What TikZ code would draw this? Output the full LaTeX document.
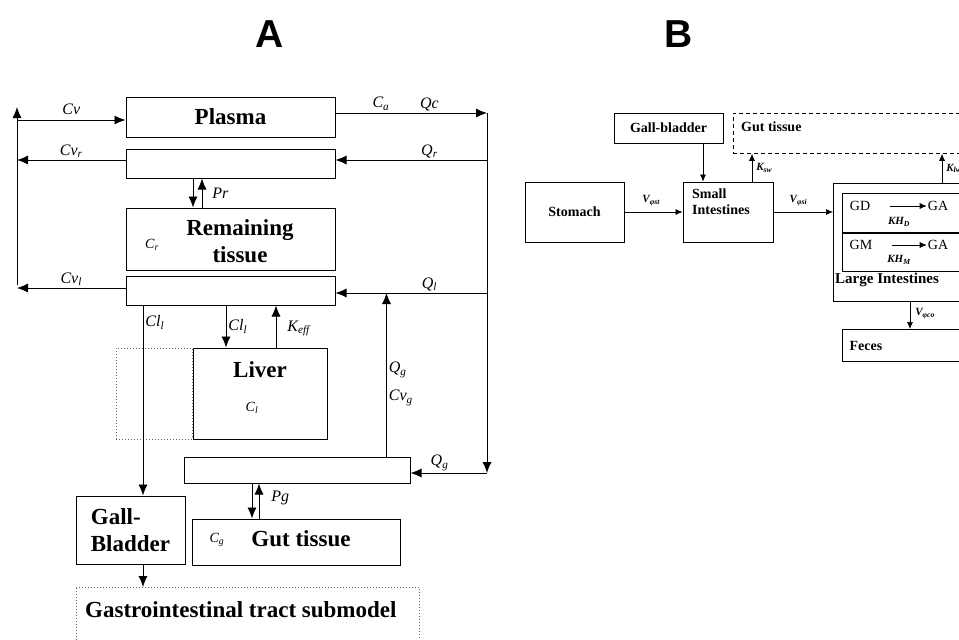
\documentclass[tikz,border=0pt]{standalone}
\usepackage{fontspec}
\setmainfont{Liberation Serif}
\newfontfamily\titlefont{Liberation Sans}
\usetikzlibrary{arrows.meta, calc, positioning}
\newcommand{\sbs}[1]{\textsubscript{#1}}
\tikzset{
  box/.style     = {draw, line width=1pt, inner sep=2pt, align=center,
                    font=\bfseries\fontsize{23}{27}\selectfont},
  dotbox/.style  = {box, draw=black!60, dotted},
  boxtxt/.style  = {align=center, inner sep=1pt,
                    font=\bfseries\fontsize{23}{27}\selectfont},
  bbox/.style    = {draw, line width=0.8pt, inner sep=2pt, align=center,
                    font=\bfseries\fontsize{14}{16}\selectfont},
  btxt/.style    = {align=left, inner sep=1pt,
                    font=\bfseries\fontsize{14}{16}\selectfont},
  chem/.style    = {inner sep=1pt, font=\fontsize{14}{16}\selectfont},
  lbl/.style     = {font=\itshape\fontsize{16}{18}\selectfont, inner sep=2pt},
  conc/.style    = {font=\itshape\fontsize{14}{16}\selectfont, inner sep=1pt},
  slbl/.style    = {font=\bfseries\itshape\fontsize{11}{12}\selectfont, inner sep=1pt},
  ttl/.style     = {font=\titlefont\bfseries\fontsize{39}{40}\selectfont},
  flow/.style    = {-{Latex[length=11pt, width=9pt]}, line width=0.8pt},
  sflow/.style   = {-{Latex[length=7pt, width=6pt]}, line width=0.7pt},
}

\begin{document}
\begin{tikzpicture}[x=1pt, y=-1pt]
  \clip (0,0) rectangle (959,640);

  \node[ttl] (ta) at (270,34) {A};
  \node[ttl] (tb) at (679,34) {B};

  %% ---------------- A: whole body ----------------
  \node[box, minimum width=209pt, minimum height=40pt] (plasma) at (230.5,117) {Plasma};
  \node[box, minimum width=209pt, minimum height=29pt, below=11pt of plasma] (rblood) {};
  \node[box, minimum width=209pt, minimum height=62pt, below=29pt of rblood] (rtissue) {};
  \node[box, minimum width=209pt, minimum height=29pt, below=5pt of rtissue] (lblood) {};
  \node[boxtxt] (rtxt) at (240,241) {Remaining\\tissue};
  \node[conc] (crtxt) at (152,245) {C\sbs{r}};

  \node[box, minimum width=134pt, minimum height=91pt] (liver) at (260,393.5) {};
  \node[dotbox, minimum width=76pt, minimum height=91pt, left=0pt of liver] (ldot) {};
  \node[boxtxt] (livertxt) at (260,370) {Liver};
  \node[conc] (cltxt) at (252,408) {C\sbs{l}};

  \node[box, minimum width=226pt, minimum height=26pt] (gblood) at (297,470) {};
  \node[box, minimum width=208pt, minimum height=46pt] (gtissue) at (296,542) {};
  \node[conc] (cgtxt) at (217,540) {C\sbs{g}};
  \node[boxtxt] (gttxt) at (301,539) {Gut tissue};

  \node[box, minimum width=109pt, minimum height=68pt, align=left] (gall) at (130.5,530) {Gall-\\Bladder};
  \node[dotbox, minimum width=343pt, minimum height=70pt, anchor=north west] (gi) at (76,587) {};
  \node[boxtxt, anchor=west] (gitxt) at (84,610) {Gastrointestinal tract submodel};

  % the two blood rails
  \coordinate (lvtop) at (17,107);
  \coordinate (lvbot) at (17,285);
  \coordinate (rvtop) at (487,113);
  \coordinate (rvbot) at (487,473);

  \coordinate (cvin)   at ([yshift=-3pt]plasma.west);
  \coordinate (caout)  at ([yshift=4pt]plasma.east);
  \coordinate (qrin)   at ([yshift=3.5pt]rblood.east);
  \coordinate (cvrout) at ([yshift=3.5pt]rblood.west);
  \coordinate (qlin)   at ([yshift=-2.5pt]lblood.east);
  \coordinate (cvlout) at ([yshift=2.5pt]lblood.west);
  \coordinate (gout)   at ([xshift=-24pt]gblood.north east);
  \coordinate (clg)    at ([xshift=12.5pt]gall.north);

  \draw[flow] (lvbot) -- (lvtop);
  \draw[flow] (cvin -| lvtop) -- node[lbl, above=3pt] {Cv} (cvin);
  \draw[flow] (caout) -- node[lbl, above, pos=0.3] {C\sbs{a}}
                         node[lbl, above, pos=0.62] {Qc} (caout -| rvtop);
  \draw[flow] (rvtop) -- (rvbot);

  \draw[flow] (qrin -| rvtop) -- node[lbl, above, pos=0.38] {Q\sbs{r}} (qrin);
  \draw[flow] (cvrout) -- node[lbl, above] {Cv\sbs{r}} (cvrout -| lvtop);
  \draw[flow] (qlin -| rvtop) -- node[lbl, above, pos=0.38] {Q\sbs{l}} (qlin);
  \draw[flow] (cvlout) -- node[lbl, above] {Cv\sbs{l}} (cvlout -| lvtop);
  \draw[flow] (rvbot) -- node[lbl, above, pos=0.62] {Q\sbs{g}} (rvbot -| gblood.east);
  \draw[flow] (gout) -- node[lbl, right, pos=0.53] {Q\sbs{g}}
                        node[lbl, right, pos=0.36] {Cv\sbs{g}} (gout |- qlin);

  % exchange blood <-> tissue
  \draw[flow] ([xshift=-37.5pt]rblood.south) -- ([xshift=-37.5pt]rtissue.north);
  \draw[flow] ([xshift=-28.5pt]rtissue.north) -- node[lbl, right=8pt] {Pr} ([xshift=-28.5pt]rblood.south);
  \draw[flow] ([xshift=-45pt]gblood.south) -- ([xshift=-44pt]gtissue.north);
  \draw[flow] ([xshift=-37pt]gtissue.north) -- node[lbl, right=10pt, pos=0.6] {Pg} ([xshift=-38pt]gblood.south);

  \draw[flow] ([xshift=-4.5pt]lblood.south) -- node[lbl, right] {Cl\sbs{l}} ([xshift=-34pt]liver.north);
  \draw[flow] ([xshift=16pt]liver.north) -- node[lbl, right=9pt, pos=0.45] {K\sbs{eff}} ([xshift=45.5pt]lblood.south);
  \draw[flow] (clg |- lblood.south) -- node[lbl, right, pos=0.09] {Cl\sbs{l}} (clg);
  \draw[flow] ([xshift=12.5pt]gall.south) -- (clg |- gi.north);

  %% ---------------- B: GI tract ----------------
  \node[bbox, minimum width=99pt, minimum height=60pt] (stomach) at (574.5,212) {Stomach};
  \node[bbox, minimum width=109pt, minimum height=30pt] (gallb) at (668.5,128) {Gall-bladder};
  \node[bbox, dashed, dash pattern=on 4pt off 3pt, minimum width=300pt, minimum height=40pt,
        anchor=north west] (guttis) at (733,113) {};
  \node[btxt, anchor=west] (guttxt) at (740,127) {Gut tissue};

  \node[bbox, minimum width=90pt, minimum height=60pt] (small) at (728,212) {};
  \node[btxt, anchor=north west] (smalltxt) at (691,188) {Small\\Intestines};

  \node[bbox, minimum width=200pt, minimum height=118pt, anchor=north west] (large) at (833,183) {};
  \node[bbox, line width=0.6pt, minimum width=150pt, minimum height=39pt,
        anchor=north west] (gdrow) at (842,193) {};
  \node[bbox, line width=0.6pt, minimum width=150pt, minimum height=38pt,
        below=0pt of gdrow] (gmrow) {};
  \node[chem] (gd) at (860,206) {GD};
  \node[chem] (gda) at (938,206) {GA};
  \node[chem] (gm) at (861,245) {GM};
  \node[chem] (gma) at (938,245) {GA};
  \node[slbl] (khd) at (899,222) {KH\sbs{D}};
  \node[slbl] (khm) at (899,260) {KH\sbs{M}};
  \node[btxt, anchor=west, font=\bfseries\fontsize{15}{17}\selectfont] (largetxt) at (834,280) {Large Intestines};

  \node[bbox, minimum width=150pt, minimum height=32pt, anchor=north west] (feces) at (842,329) {};
  \node[btxt] (fecestxt) at (866,346) {Feces};

  \coordinate (kswf) at ([xshift=24pt]small.north);
  \coordinate (klf)  at (942,183);
  \coordinate (vco)  at (910,301);

  \draw[sflow] (stomach) -- node[slbl, above=5pt, pos=0.46] {V\sbs{φst}} (small);
  \draw[sflow] ([xshift=34.5pt]gallb.south) -- ([xshift=-25pt]small.north);
  \draw[sflow] (kswf) -- node[slbl, right=3pt] {K\sbs{sw}} (kswf |- guttis.south);
  \draw[sflow] (small.east) -- node[slbl, above=5pt, pos=0.42] {V\sbs{φsi}} (small.east -| large.west);
  \draw[sflow] (klf) -- node[slbl, right=3pt] {K\sbs{lw}} (klf |- guttis.south);
  \draw[sflow] (vco) -- node[slbl, right=4pt, pos=0.45] {V\sbs{φco}} (vco |- feces.north);
  \draw[sflow, shorten <=19pt] (gd) -- (gda);
  \draw[sflow, shorten <=19pt] (gm) -- (gma);

\end{tikzpicture}
\end{document}
